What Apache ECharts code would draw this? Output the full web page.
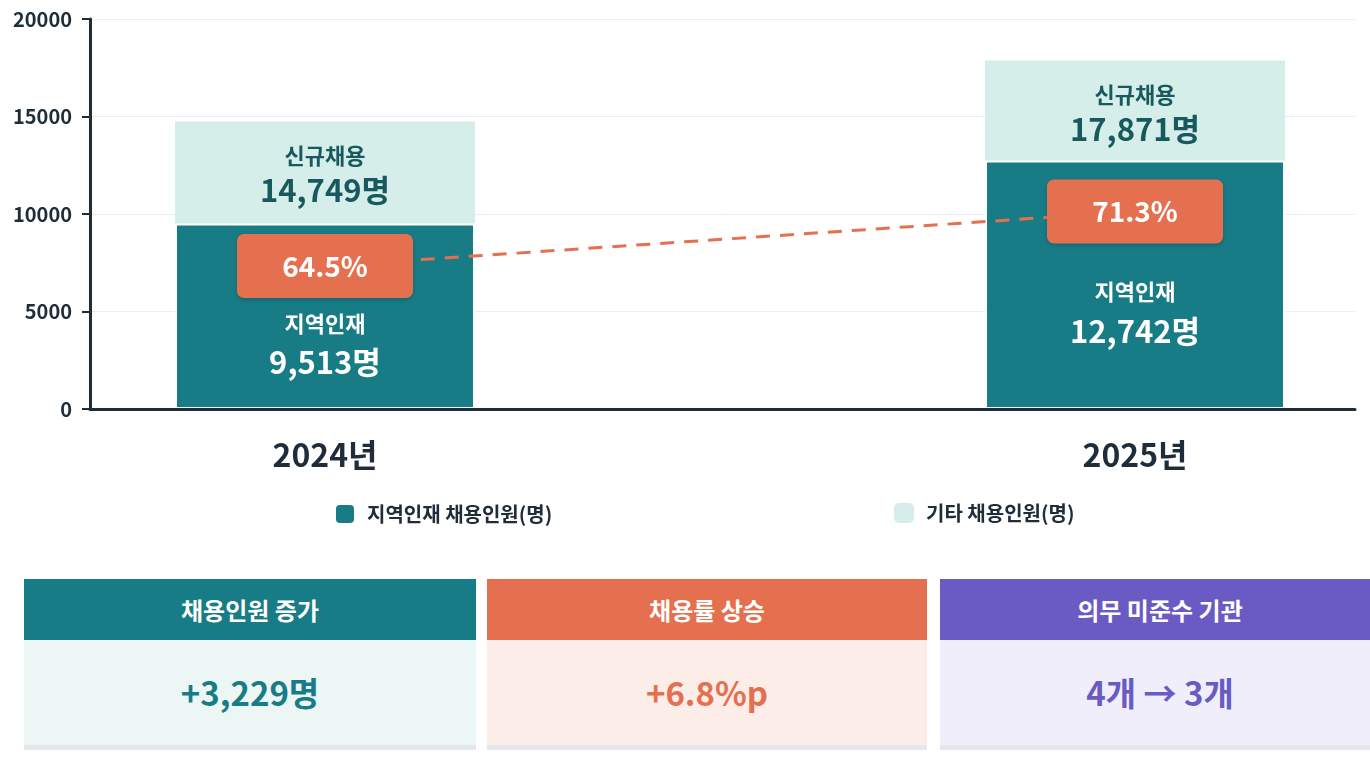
<!DOCTYPE html>
<html>
<head>
<meta charset="utf-8">
<script src="https://cdn.jsdelivr.net/npm/echarts@6/dist/echarts.min.js"></script>
<style>
body{margin:0;background:#fff;font-family:"Noto Sans CJK KR","Noto Sans",sans-serif;}
#main{position:absolute;left:0;top:0;width:1370px;height:560px;}
.cards{position:absolute;left:24px;top:579px;width:1346px;height:171px;overflow:hidden;}
.card{position:absolute;top:0;height:171px;border-bottom:5px solid #e4e8ea;box-sizing:border-box;}
.card .hd{height:61px;line-height:61px;text-align:center;color:#fff;font-weight:700;font-size:24px;}
.card .bd{height:105px;line-height:105px;text-align:center;font-weight:700;font-size:33px;}
</style>
</head>
<body>
<div id="main"></div>
<div class="cards">
	<div class="card" style="left:0;width:452px;">
		<div class="hd" style="background:#187c86;">채용인원 증가</div>
		<div class="bd" style="background:#ebf6f5;color:#187c86;">+3,229명</div>
	</div>
	<div class="card" style="left:463px;width:440px;">
		<div class="hd" style="background:#e5704f;">채용률 상승</div>
		<div class="bd" style="background:#fcede9;color:#e5704f;">+6.8%p</div>
	</div>
	<div class="card" style="left:916px;width:440px;">
		<div class="hd" style="background:#6a5ac4;">의무 미준수 기관</div>
		<div class="bd" style="background:#f0eefa;color:#6a5ac4;">4개 → 3개</div>
	</div>
</div>
<script>
var years = ['2024년', '2025년'];
var localHires = [9513, 12742];   // 지역인재
var totalHires = [14749, 17871];  // 신규채용 전체 (지역인재 + 기타)
var hireRates = [64.5, 71.3];     // 지역인재 채용률(%)

var yTicks = { min: 0, max: 20000, interval: 5000 };

var TEAL = '#187c86', LIGHT = '#d5eeea', ORANGE = '#e5704f', DARK = '#1f2d3a';
var FONT = '"Noto Sans CJK KR", "Noto Sans", sans-serif';

function pts(arr) {
	var out = [];
	for (var i = 0; i < arr.length; i++) out.push([i, arr[i]]);
	return out;
}

var legendText = { fontSize: 20, fontWeight: 'bold', color: DARK, padding: [0, 0, 0, 7], fontFamily: FONT };

var chart = echarts.init(document.getElementById('main'));
var option = {
	textStyle: { fontFamily: FONT },
	animation: false,
	grid: { left: 90, right: 15, top: 19, bottom: 151 },
	legend: [{
		left: 329, top: 498,
		itemWidth: 20, itemHeight: 20, icon: 'roundRect',
		textStyle: legendText,
		data: ['지역인재 채용인원(명)']
	}, {
		left: 889, top: 498,
		itemWidth: 20, itemHeight: 20, icon: 'roundRect',
		textStyle: legendText,
		data: ['기타 채용인원(명)']
	}],
	xAxis: {
		type: 'value',
		min: -0.2901, max: 1.2716,
		z: 3,
		axisLine: { show: true, onZero: false, lineStyle: { color: DARK, width: 3 } },
		axisTick: { show: false },
		splitLine: { show: false },
		axisLabel: {
			customValues: [0, 1],
			formatter: function (v) { return years[Math.round(v)]; },
			fontSize: 32, fontWeight: 'bold', color: DARK, margin: 30, fontFamily: FONT
		}
	},
	yAxis: [{
		type: 'value',
		min: yTicks.min, max: yTicks.max, interval: yTicks.interval,
		axisLine: { show: true, onZero: false, lineStyle: { color: DARK, width: 3 } },
		axisTick: { show: true, length: 8, lineStyle: { color: DARK, width: 2 } },
		splitLine: { lineStyle: { color: '#e8edf2', width: 1 } },
		axisLabel: {
			formatter: function (v) { return String(v); },
			fontSize: 20, fontWeight: 'bold', color: DARK, margin: 18, fontFamily: FONT
		}
	}, {
		type: 'value',
		min: 46.66, max: 95.32,
		show: false,
		splitLine: { show: false }
	}],
	series: [{
		// full bar (신규채용 전체), drawn behind the 지역인재 part
		name: '기타 채용인원(명)',
		type: 'bar',
		barWidth: 300,
		barGap: '-100%',
		data: pts(totalHires),
		itemStyle: { color: LIGHT },
		label: {
			show: true,
			position: 'insideTop',
			distance: 18,
			formatter: function (p) {
				return '{a|신규채용}\n{b|' + echarts.format.addCommas(totalHires[p.dataIndex]) + '명}';
			},
			rich: {
				a: { fontSize: 22, fontWeight: 'bold', color: '#18595e', lineHeight: 32, fontFamily: FONT },
				b: { fontSize: 31, fontWeight: 'bold', color: '#18595e', lineHeight: 38, fontFamily: FONT }
			}
		}
	}, {
		name: '지역인재 채용인원(명)',
		type: 'bar',
		barWidth: 300,
		barGap: '-100%',
		data: pts(localHires),
		itemStyle: { color: TEAL, borderColor: '#fff', borderWidth: 2 },
		label: {
			show: true,
			position: 'inside',
			offset: [0, 28],
			formatter: function (p) {
				return '{a|지역인재}\n{b|' + echarts.format.addCommas(localHires[p.dataIndex]) + '명}';
			},
			rich: {
				a: { fontSize: 22, fontWeight: 'bold', color: '#fff', lineHeight: 36, fontFamily: FONT },
				b: { fontSize: 31, fontWeight: 'bold', color: '#fff', lineHeight: 42, fontFamily: FONT }
			}
		}
	}, {
		name: '채용률',
		type: 'line',
		yAxisIndex: 1,
		data: pts(hireRates),
		symbol: 'circle',
		symbolSize: 1,
		itemStyle: { color: 'transparent' },
		lineStyle: { color: ORANGE, width: 3, type: [14, 10] },
		z: 5,
		label: {
			show: true,
			position: 'inside',
			formatter: function (p) { return p.value[1] + '%'; },
			backgroundColor: ORANGE,
			borderRadius: 7,
			width: 176, height: 64, lineHeight: 64,
			align: 'center', verticalAlign: 'middle',
			color: '#fff', fontSize: 28, fontWeight: 'bold', fontFamily: FONT,
			shadowBlur: 4, shadowColor: 'rgba(0,0,0,0.18)', shadowOffsetY: 2
		}
	}]
};
chart.setOption(option);
</script>
</body>
</html>
